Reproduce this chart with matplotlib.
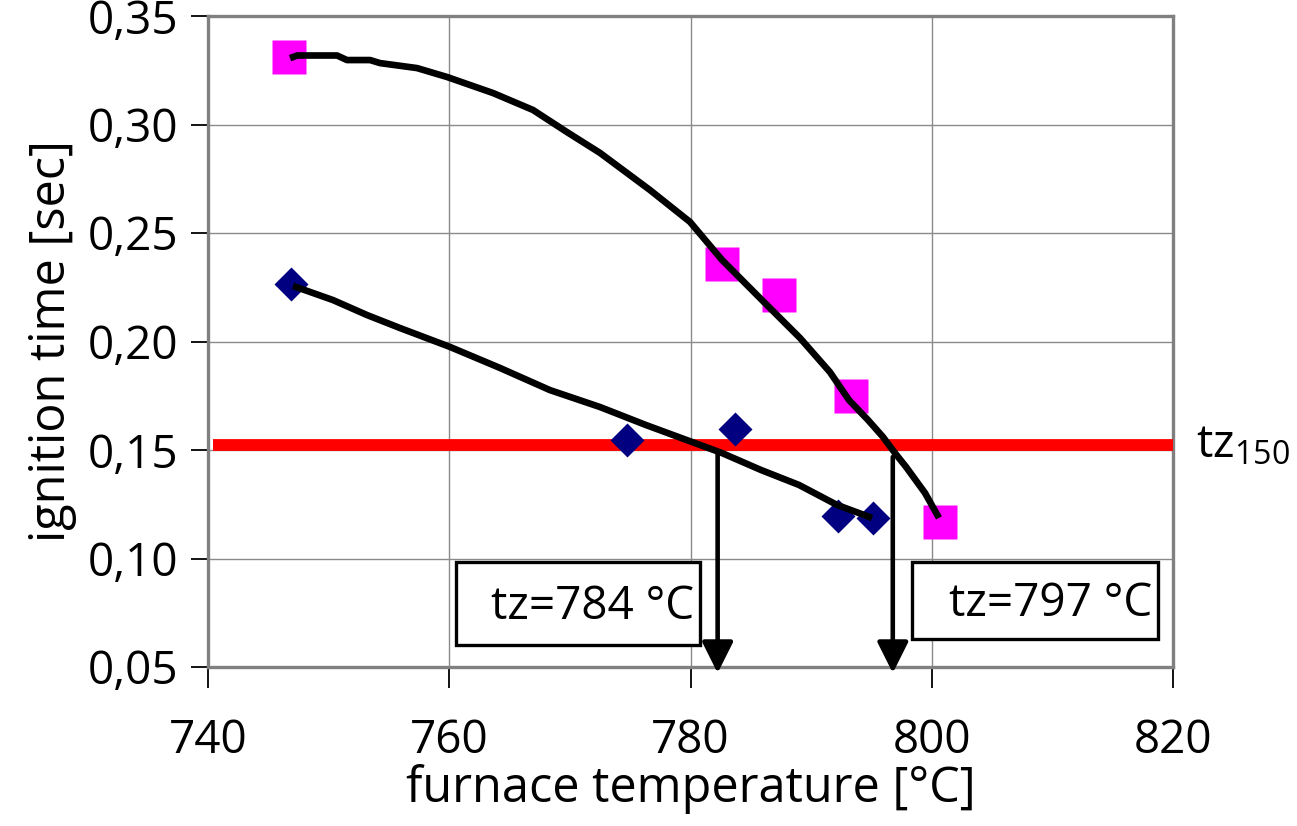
import matplotlib
matplotlib.use("Agg")
import matplotlib.pyplot as plt
from matplotlib.patches import Rectangle

# ---------------- data ----------------
sq_x = [746.7, 782.6, 787.3, 793.3, 800.7]          # magenta squares
sq_y = [0.331, 0.2357, 0.2214, 0.1749, 0.1168]

dm_x = [746.9, 774.7, 783.7, 792.2, 795.1]          # navy diamonds
dm_y = [0.2265, 0.1546, 0.1597, 0.1196, 0.1187]

upper_x = [746.80, 747.40, 750.70, 751.52, 753.43, 754.26, 757.33, 759.81, 763.63,
           766.94, 769.76, 772.50, 776.64, 779.96, 782.61, 785.76, 789.08, 791.56,
           793.14, 794.72, 795.96, 796.95, 797.87, 799.44, 800.60]
upper_y = [0.3306, 0.3318, 0.3318, 0.3297, 0.3297, 0.3283, 0.3260, 0.3219, 0.3145,
           0.3067, 0.2965, 0.2869, 0.2698, 0.2551, 0.2376, 0.2200, 0.2016, 0.1859,
           0.1730, 0.1638, 0.1560, 0.1486, 0.1422, 0.1302, 0.1187]

lower_x = [747.05, 750.36, 753.18, 755.92, 760.06, 764.21, 768.35, 772.50, 776.31,
           780.12, 782.61, 785.84, 788.99, 792.14, 795.05]
lower_y = [0.2256, 0.2191, 0.2122, 0.2062, 0.1975, 0.1878, 0.1776, 0.1698, 0.1615,
           0.1537, 0.1486, 0.1408, 0.1339, 0.1247, 0.1187]

tz150_y = 0.1523
tz150_x = [740.4, 820.0]

arrow_x = [782.25, 796.77]
arrow_top = [0.1486, 0.1468]
arrow_tip = 0.0472
box_labels = ["tz=784 °C", "tz=797 °C"]
box_x0 = [760.56, 798.36]
box_x1 = [780.79, 818.76]
box_y0 = [0.0601, 0.0629]
box_y1 = [0.0984, 0.0984]

x_ticks = [740, 760, 780, 800, 820]
y_ticks = [0.05, 0.10, 0.15, 0.20, 0.25, 0.30, 0.35]
y_tick_labels = ["0,05", "0,10", "0,15", "0,20", "0,25", "0,30", "0,35"]

# ---------------- style ----------------
plt.rcParams['font.family'] = ['Open Sans', 'DejaVu Sans']
plt.rcParams['font.weight'] = 'medium'
plt.rcParams['mathtext.fontset'] = 'custom'
plt.rcParams['mathtext.rm'] = 'Open Sans:medium'
plt.rcParams['mathtext.it'] = 'Open Sans:medium'

fig = plt.figure(figsize=(12.97, 8.26), dpi=100)
ax = fig.add_axes([208/1297, 1-667/826, (1173-208)/1297, (667-16)/826])

ax.set_xlim(740, 820)
ax.set_ylim(0.05, 0.35)
ax.set_xticks(x_ticks)
ax.set_xticklabels([str(t) for t in x_ticks])
ax.set_yticks(y_ticks)
ax.set_yticklabels(y_tick_labels)

ax.grid(True, color='#8a8a8a', linewidth=1.0)
ax.set_axisbelow(True)
for s in ax.spines.values():
    s.set_color('#808080')
    s.set_linewidth(2.4)

ax.tick_params(axis='y', direction='out', length=12, width=1.3, color='black',
               labelsize=33, pad=9)
ax.tick_params(axis='x', direction='out', length=15, width=1.3, color='black',
               labelsize=33, pad=22)

ax.set_xlabel("furnace temperature [°C]", fontsize=35, labelpad=0)
ax.set_ylabel("ignition time [sec]", fontsize=35, labelpad=8)

# red tz150 line
ax.plot(tz150_x, [tz150_y, tz150_y], color='#ff0000', linewidth=8.5,
        solid_capstyle='butt', zorder=3, clip_on=False)

# markers
ax.plot(sq_x, sq_y, linestyle='none', marker='s', markersize=25,
        markerfacecolor='#ff00ff', markeredgecolor='none', zorder=4)
ax.plot(dm_x, dm_y, linestyle='none', marker='D', markersize=17,
        markerfacecolor='#000080', markeredgecolor='none', zorder=4)

# trend curves
ax.plot(upper_x, upper_y, color='black', linewidth=4.8, zorder=5,
        solid_capstyle='butt', solid_joinstyle='round')
ax.plot(lower_x, lower_y, color='black', linewidth=4.8, zorder=5,
        solid_capstyle='butt', solid_joinstyle='round')

# arrows
for xa, yt in zip(arrow_x, arrow_top):
    ax.annotate("", xy=(xa, arrow_tip), xytext=(xa, yt),
                arrowprops=dict(arrowstyle='-|>,head_length=1.9,head_width=0.95',
                                color='black', lw=3.3, shrinkA=0, shrinkB=0),
                zorder=6, annotation_clip=False)

# text boxes
for lab, x0, x1, y0, y1 in zip(box_labels, box_x0, box_x1, box_y0, box_y1):
    ax.add_patch(Rectangle((x0, y0), x1 - x0, y1 - y0, facecolor='white',
                           edgecolor='black', linewidth=2.4, zorder=7, clip_on=False))
    ax.text(x1 - 0.45, (y0 + y1) / 2 - 0.0015, lab, ha='right', va='center',
            fontsize=33, zorder=8)

# tz150 label
ax.text(821.9, tz150_y, "tz$_{150}$", ha='left', va='center', fontsize=33)

fig.savefig("out.png", dpi=100)
